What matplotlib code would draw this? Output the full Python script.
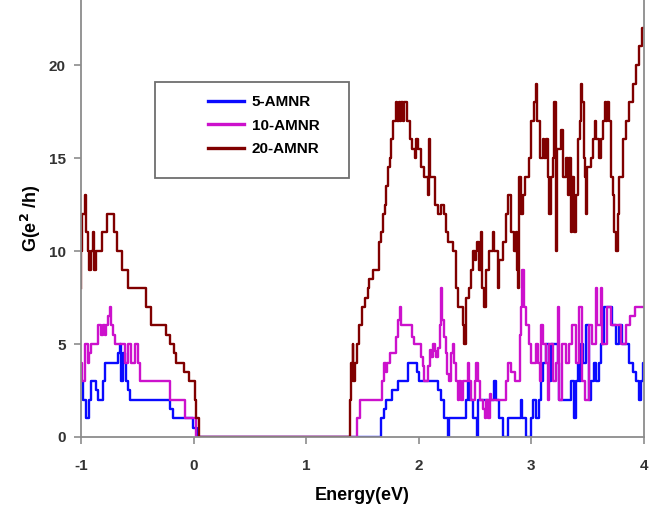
import matplotlib
matplotlib.use("Agg")
import matplotlib.pyplot as plt
from matplotlib.patches import Rectangle

plt.rcParams['font.family'] = ['Liberation Sans', 'DejaVu Sans']
plt.rcParams['axes.unicode_minus'] = False
plt.rcParams['mathtext.default'] = 'bf'

# 5-AMNR  (energy breakpoints, conductance)
e5 = [-1.000, -0.985, -0.955, -0.932, -0.908, -0.870, -0.849, -0.805, -0.790, -0.671,
      -0.657, -0.645, -0.630, -0.612, -0.598, -0.583, -0.568, -0.210, -0.180, -0.005,
      0.030, 1.665, 1.690, 1.712, 1.760, 1.815, 1.900, 1.985, 2.005, 2.170,
      2.200, 2.225, 2.255, 2.265, 2.420, 2.435, 2.445, 2.480, 2.515, 2.530,
      2.670, 2.683, 2.715, 2.745, 2.790, 2.908, 2.918, 2.950, 2.995, 3.012,
      3.040, 3.070, 3.085, 3.100, 3.130, 3.160, 3.175, 3.232, 3.248, 3.350,
      3.380, 3.392, 3.410, 3.425, 3.440, 3.455, 3.485, 3.512, 3.525, 3.558,
      3.572, 3.600, 3.618, 3.645, 3.720, 3.750, 3.780, 3.808, 3.865, 3.900,
      3.930, 3.955, 3.970, 3.988, 4.000]
g5 = [3, 2, 1, 2, 3, 2.5, 2, 3, 4, 4.5,
      5, 3, 4.5, 4, 3, 2.5, 2, 1.5, 1, 0.5,
      0, 1, 1.5, 2, 2.5, 3, 4, 3.5, 3, 2.5,
      2, 1, 0, 1, 2, 3, 2, 1, 0, 2,
      3, 2, 1, 0, 1, 2, 1, 0, 1, 2,
      1, 2, 3, 4, 5, 3, 5, 4, 2, 3,
      1, 3, 4, 3, 5, 4, 6, 2, 3, 4,
      3, 4, 5, 7, 6, 5, 6, 5, 4, 3.5,
      3, 2, 3, 4, 4]

# 10-AMNR
e10 = [-1.000, -0.993, -0.967, -0.938, -0.925, -0.908, -0.849, -0.819, -0.805, -0.790,
       -0.775, -0.760, -0.745, -0.731, -0.716, -0.701, -0.612, -0.583, -0.553, -0.523,
       -0.494, -0.479, -0.210, -0.076, 0.025, 1.455, 1.475, 1.672, 1.690, 1.705,
       1.715, 1.740, 1.800, 1.818, 1.830, 1.838, 1.940, 1.960, 2.020, 2.035,
       2.050, 2.080, 2.095, 2.110, 2.128, 2.140, 2.155, 2.170, 2.185, 2.200,
       2.210, 2.225, 2.238, 2.250, 2.265, 2.285, 2.302, 2.315, 2.330, 2.345,
       2.360, 2.375, 2.390, 2.435, 2.450, 2.465, 2.495, 2.510, 2.522, 2.540,
       2.570, 2.585, 2.598, 2.612, 2.628, 2.645, 2.775, 2.790, 2.820, 2.850,
       2.895, 2.908, 2.918, 2.930, 2.950, 2.980, 2.998, 3.040, 3.058, 3.072,
       3.088, 3.100, 3.130, 3.145, 3.158, 3.188, 3.218, 3.235, 3.247, 3.275,
       3.305, 3.335, 3.365, 3.395, 3.425, 3.445, 3.480, 3.510, 3.542, 3.572,
       3.585, 3.615, 3.628, 3.670, 3.705, 3.800, 3.840, 3.880, 3.920, 4.000]
g10 = [4, 3, 5, 4, 4.5, 5, 6, 5.5, 6, 5.5,
       6, 6.5, 7, 6, 5.5, 5, 4, 5, 4, 5,
       4, 3, 2, 1, 0, 1, 2, 3, 4, 3.5,
       4, 4.5, 5.4, 6.3, 7, 6, 5.4, 5, 4.3, 3.8,
       3, 3.8, 4.7, 4.3, 5, 4.6, 4.3, 4.8, 6, 8,
       6.3, 5.4, 4.5, 3.4, 3, 4.5, 5, 4, 3, 2,
       3, 2, 3, 4, 3, 2, 3, 4, 3, 2,
       1.5, 1, 2, 1, 2.3, 2, 3, 4, 3.5, 3,
       5.5, 7, 9, 7, 6, 5, 4, 5, 4, 3,
       6, 5, 4, 2, 5, 3, 4, 7, 2, 5,
       4, 5, 6, 4, 7, 3, 2, 6, 5, 8,
       6, 8, 5, 7, 6, 5, 6, 6.5, 7, 7]

# 20-AMNR
e20 = [-1.000, -0.996, -0.988, -0.962, -0.952, -0.942, -0.928, -0.910, -0.895, -0.887,
       -0.868, -0.815, -0.770, -0.710, -0.680, -0.632, -0.580, -0.425, -0.375, -0.245,
       -0.210, -0.175, -0.160, -0.085, -0.040, 0.008, 0.022, 0.050, 1.385, 1.398,
       1.412, 1.420, 1.430, 1.448, 1.470, 1.495, 1.522, 1.545, 1.560, 1.590,
       1.650, 1.665, 1.682, 1.700, 1.712, 1.728, 1.742, 1.755, 1.770, 1.800,
       1.810, 1.822, 1.835, 1.845, 1.858, 1.870, 1.895, 1.918, 1.940, 1.962,
       1.975, 1.990, 2.020, 2.050, 2.080, 2.093, 2.100, 2.140, 2.170, 2.200,
       2.225, 2.240, 2.255, 2.300, 2.330, 2.345, 2.390, 2.405, 2.415, 2.445,
       2.465, 2.480, 2.495, 2.505, 2.520, 2.535, 2.553, 2.565, 2.580, 2.595,
       2.625, 2.655, 2.670, 2.700, 2.715, 2.745, 2.770, 2.788, 2.815, 2.845,
       2.860, 2.872, 2.882, 2.893, 2.905, 2.925, 2.940, 2.980, 2.995, 3.025,
       3.040, 3.050, 3.072, 3.100, 3.115, 3.130, 3.145, 3.160, 3.175, 3.190,
       3.205, 3.215, 3.230, 3.260, 3.278, 3.305, 3.322, 3.338, 3.352, 3.365,
       3.380, 3.395, 3.410, 3.428, 3.440, 3.452, 3.465, 3.478, 3.488, 3.498,
       3.530, 3.548, 3.562, 3.575, 3.600, 3.620, 3.635, 3.650, 3.665, 3.672,
       3.690, 3.708, 3.722, 3.738, 3.752, 3.768, 3.782, 3.810, 3.840, 3.870,
       3.900, 3.930, 3.960, 3.985, 4.000]
g20 = [8, 10, 12, 13, 11, 10, 9, 10, 11, 9,
       10, 11, 12, 11, 10, 9, 8, 7, 6, 5.5,
       5, 4.5, 4, 3.5, 3, 2, 1, 0, 2, 4,
       5, 3, 4, 5, 6, 7, 7.5, 8, 8.5, 9,
       10.5, 11, 12, 12.5, 13.5, 14.5, 15, 16, 17, 18,
       17, 18, 17, 18, 17, 18, 17, 16, 15.5, 15,
       16, 15.5, 14.5, 14, 13, 16, 14, 12.5, 12, 12.5,
       12, 11, 10.5, 10, 8, 7, 6, 5, 7.5, 8,
       9, 10, 9.5, 10, 10.5, 9, 11, 8, 7, 9,
       10, 11, 10, 8, 9.5, 10.5, 12, 13, 11, 10,
       11, 9, 8, 14, 12, 13, 14, 15, 17, 18,
       19, 17, 15, 16, 15, 16, 14, 12, 14, 15,
       18, 10, 15.5, 16.5, 14, 15, 13, 15, 11, 14,
       11, 13, 16, 17, 19, 18, 15, 14, 12, 14.5,
       15, 16, 17, 16, 15, 16, 17, 18, 17, 18,
       17, 14, 13, 11, 10, 12, 14, 16, 17, 18,
       19, 20, 21, 22, 22]

labels = ['5-AMNR', '10-AMNR', '20-AMNR']
colors = ['#0a0aff', '#cc11cc', '#800000']

fig = plt.figure(figsize=(6.56, 5.08), dpi=100)
ax = fig.add_axes([0.1235, 0.1398, 0.8582, 0.8602])

for e, g, lab, c in zip([e5, e10, e20], [g5, g10, g20], labels, colors):
    ax.plot(e, g, drawstyle='steps-post', color=c, lw=1.7, label=lab)

ax.set_xlim(-1, 4)
ax.set_ylim(0, 23.5)
ax.set_xticks([-1, 0, 1, 2, 3, 4])
ax.set_yticks([0, 5, 10, 15, 20])

for side in ['left', 'bottom', 'right']:
    ax.spines[side].set_color('#8c8c8c')
    ax.spines[side].set_linewidth(1.3)
ax.spines['top'].set_visible(False)
ax.tick_params(axis='both', direction='out', length=5, width=1.2, color='#8c8c8c',
               labelcolor='#333333', labelsize=11)
ax.tick_params(axis='x', pad=11)
ax.tick_params(axis='y', pad=6)
for t in ax.get_xticklabels() + ax.get_yticklabels():
    t.set_fontweight('bold')

ax.set_xlabel('Energy(eV)', fontsize=13, fontweight='bold', labelpad=10)
ax.set_ylabel('G(e$^2$ /h)', fontsize=13, fontweight='bold', labelpad=4)

# legend box
ax.add_patch(Rectangle((0.1314, 0.5925), 0.3446, 0.2197, transform=ax.transAxes,
                       fill=False, edgecolor='#6e6e6e', lw=1.3, zorder=5))
leg = ax.legend(loc='upper left', bbox_to_anchor=(0.2256, 0.782), frameon=False,
                borderpad=0, borderaxespad=0, handlelength=2.35, handletextpad=0.5,
                labelspacing=0.62, prop={'weight': 'bold', 'size': 11})
for line in leg.get_lines():
    line.set_linewidth(2.4)

fig.savefig('out.png', dpi=100)
